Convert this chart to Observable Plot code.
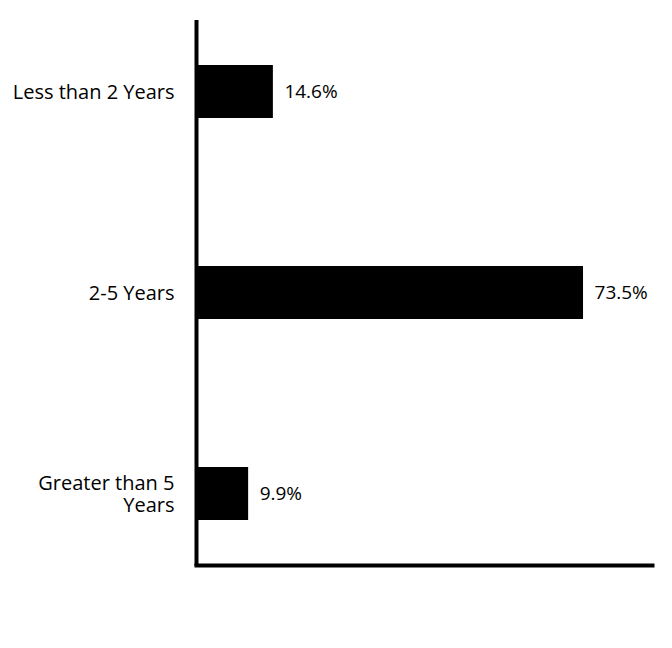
<!DOCTYPE html>
<html>
<head>
<meta charset="utf-8">
<script src="https://cdn.jsdelivr.net/npm/d3@7"></script>
<script src="https://cdn.jsdelivr.net/npm/@observablehq/plot@0.6"></script>
<style>
  html, body { margin: 0; padding: 0; background: #fff; }
  #chart svg { display: block; }
</style>
</head>
<body>
<div id="chart"></div>
<script>
const categories = ["Less than 2 Years", "2-5 Years", "Greater than 5 Years"];
const tickLabels = ["Less than 2 Years", "2-5 Years", "Greater than 5\nYears"];
const values = [14.6, 73.5, 9.9];
const valueLabels = ["14.6%", "73.5%", "9.9%"];

const data = categories.map((c, i) => ({category: c, value: values[i], label: valueLabels[i]}));
const labelMap = new Map(categories.map((c, i) => [c, tickLabels[i]]));

const font = "'Open Sans', Lato, sans-serif";

const chart = Plot.plot({
  width: 672,
  height: 648,
  marginTop: 20,
  marginBottom: 82,
  marginLeft: 196,
  marginRight: 20,
  style: {fontFamily: font, background: "#fff", color: "#000"},
  x: {domain: [0, 86.6], axis: null},
  y: {domain: categories, paddingInner: 0.736, paddingOuter: 0.226, label: null, tickSize: 0},
  marks: [
    Plot.barX(data, {x: "value", y: "category", fill: "#000"}),
    Plot.text(data, {x: "value", y: "category", text: "label", textAnchor: "start", dx: 11, fontSize: 19, fill: "#000"}),
    Plot.axisY({tickSize: 0, tickPadding: 22, fontSize: 20, label: null, tickFormat: d => labelMap.get(d), lineHeight: 1.1, fill: "#000"}),
    Plot.frame({anchor: "bottom", stroke: "#000", strokeWidth: 4, dy: -1}),
    Plot.ruleX([0], {stroke: "#000", strokeWidth: 4})
  ]
});
document.getElementById("chart").appendChild(chart);
</script>
</body>
</html>
